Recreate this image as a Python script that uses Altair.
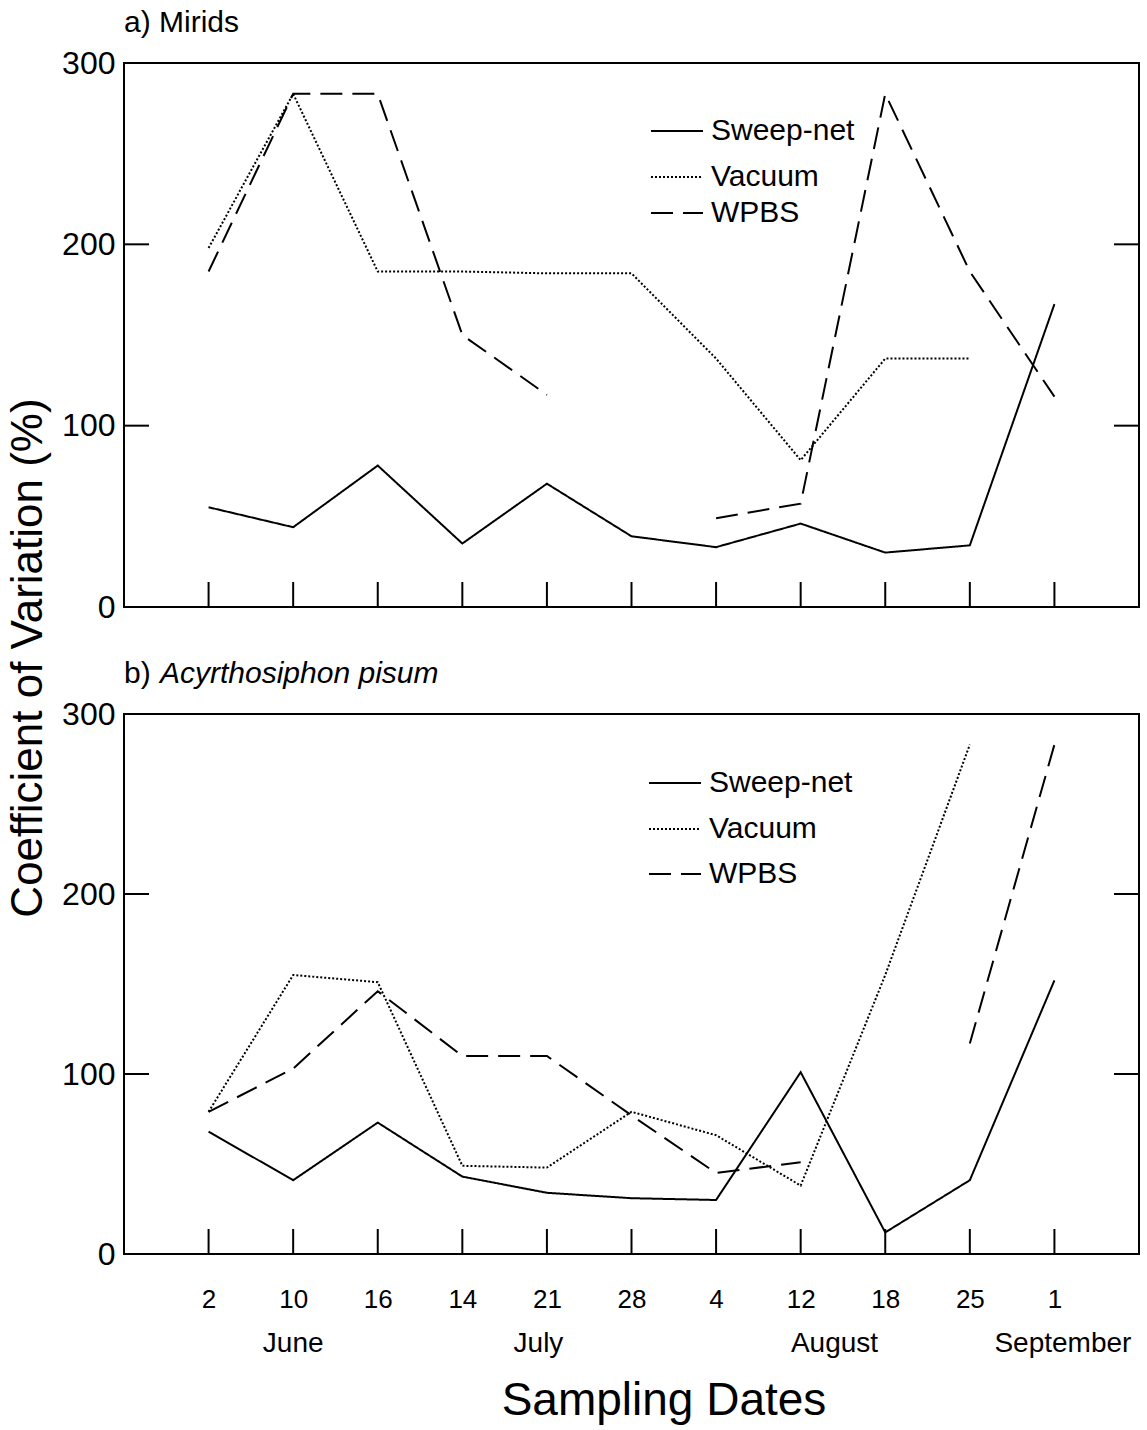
import json
import altair as alt
import pandas as pd

# ---------------- data ----------------
dates = ["2", "10", "16", "14", "21", "28", "4", "12", "18", "25", "1"]
positions = list(range(1, 12))
months = ["June", "July", "August", "September"]
month_pos = [2.0, 4.9, 8.4, 11.1]
series = ["Sweep-net", "Vacuum", "WPBS"]
y_tick_values = [0, 100, 200, 300]
inner_y_ticks = [100, 200]

mirids_sweep = [55, 44, 78, 35, 68, 39, 33, 46, 30, 34, 167]
mirids_vacuum = [198, 283, 185, 185, 184, 184, 137, 81, 137, 137, None]
mirids_wpbs = [185, 283, 283, 150, 117, None, 49, 57, 283, 185, 116]

aphid_sweep = [68, 41, 73, 43, 34, 31, 30, 101, 12, 41, 152]
aphid_vacuum = [79, 155, 151, 49, 48, 79, 66, 38, 155, 283, None]
aphid_wpbs = [79, 103, 146, 110, 110, 77, 45, 51, None, 117, 283]

FONT = "Liberation Sans"
W = 1015
H_A = 544
H_B = 540


def make_df(vals_by_series):
    rows = []
    for s, vals in zip(series, vals_by_series):
        seg = 0
        prev = False
        for p, v in zip(positions, vals):
            if v is None:
                if prev:
                    seg += 1
                prev = False
                continue
            rows.append(dict(series=s, pos=p, cv=v, seg=f"{s}-{seg}"))
            prev = True
    return pd.DataFrame(rows)


xs = alt.Scale(domain=[0, 12], nice=False, zero=False)
ys = alt.Scale(domain=[0, 300], nice=False, zero=True)
dash = alt.Scale(domain=series, range=[[1, 0], [2, 2], [22, 10]])

label_expr = json.dumps(dates) + "[datum.value - 1]"

yaxis = alt.Axis(values=y_tick_values, ticks=False, tickSize=0, domain=False, grid=False,
                 labelFontSize=32, labelPadding=9, labelColor="black", title=None, labelFont=FONT)


def panel(df, H, show_x, legend_xy, title_parts):
    if show_x:
        xaxis = alt.Axis(values=positions, labelExpr=label_expr, ticks=False, tickSize=0,
                         domain=False, grid=False, labelFontSize=26, labelPadding=32,
                         labelColor="black", title=None, labelFont=FONT, labelFlush=False)
    else:
        xaxis = None

    layers = []
    lines = alt.Chart(df).mark_line(color="black", strokeWidth=2).encode(
        x=alt.X("pos:Q", scale=xs, axis=xaxis),
        y=alt.Y("cv:Q", scale=ys, axis=yaxis),
        strokeDash=alt.StrokeDash("series:N", scale=dash, legend=None),
        detail="seg:N",
    )
    layers.append(lines)

    # inward ticks on the bottom axis
    xt = alt.Chart(pd.DataFrame({"pos": positions})).mark_rule(color="black", strokeWidth=2).encode(
        x=alt.X("pos:Q", scale=xs, axis=xaxis),
        y=alt.value(H), y2=alt.value(H - 25),
    )
    layers.append(xt)
    # inward ticks on the left and right axes
    yt_df = pd.DataFrame({"cv": inner_y_ticks})
    ytl = alt.Chart(yt_df).mark_rule(color="black", strokeWidth=2).encode(
        y=alt.Y("cv:Q", scale=ys, axis=yaxis), x=alt.value(0), x2=alt.value(25))
    ytr = alt.Chart(yt_df).mark_rule(color="black", strokeWidth=2).encode(
        y=alt.Y("cv:Q", scale=ys, axis=yaxis), x=alt.value(W - 25), x2=alt.value(W))
    layers += [ytl, ytr]

    # legend
    lx, lys = legend_xy
    for s, ly in zip(series, lys):
        sdf = pd.DataFrame({"series": [s]})
        layers.append(alt.Chart(sdf).mark_rule(color="black", strokeWidth=2).encode(
            x=alt.value(lx), x2=alt.value(lx + 52), y=alt.value(ly),
            strokeDash=alt.StrokeDash("series:N", scale=dash, legend=None)))
        layers.append(alt.Chart(sdf).mark_text(align="left", baseline="middle", fontSize=30,
                                               font=FONT, color="black").encode(
            x=alt.value(lx + 60), y=alt.value(ly), text="series:N"))

    # panel title
    for text, xoff, style in title_parts:
        layers.append(alt.Chart(pd.DataFrame({"t": [text]})).mark_text(
            align="left", baseline="middle", fontSize=30, font=FONT, fontStyle=style,
            color="black").encode(x=alt.value(xoff), y=alt.value(-40), text="t:N"))
    return layers


df_a = make_df([mirids_sweep, mirids_vacuum, mirids_wpbs])
df_b = make_df([aphid_sweep, aphid_vacuum, aphid_wpbs])

layers_a = panel(df_a, H_A, False, (527, [68, 114, 150]), [("a) Mirids", 0, "normal")])
# shared y title
layers_a.append(alt.Chart(pd.DataFrame({"t": ["Coefficient of Variation (%)"]})).mark_text(
    angle=270, align="center", baseline="middle", fontSize=44, font=FONT, color="black").encode(
    x=alt.value(-95), y=alt.value(595), text="t:N"))

layers_b = panel(df_b, H_B, True, (525, [69, 115, 160]),
                 [("b)", 0, "normal"), ("Acyrthosiphon pisum", 36, "italic")])
# month labels
layers_b.append(alt.Chart(pd.DataFrame({"pos": month_pos, "m": months})).mark_text(
    align="center", baseline="middle", fontSize=28, font=FONT, color="black").encode(
    x=alt.X("pos:Q", scale=xs), y=alt.value(H_B + 90), text="m:N"))
# x title
layers_b.append(alt.Chart(pd.DataFrame({"t": ["Sampling Dates"]})).mark_text(
    align="center", baseline="middle", fontSize=46, font=FONT, color="black").encode(
    x=alt.value(540), y=alt.value(H_B + 147), text="t:N"))

chart_a = alt.layer(*layers_a).properties(width=W, height=H_A)
chart_b = alt.layer(*layers_b).properties(width=W, height=H_B)

chart = alt.vconcat(chart_a, chart_b, spacing=107).properties(
    bounds="flush",
    padding={"top": 7, "left": 6, "right": 5, "bottom": 5},
).configure(font=FONT).configure_view(stroke="black", strokeWidth=2)

chart.save("out.html", embed_options={"renderer": "svg", "actions": False})
